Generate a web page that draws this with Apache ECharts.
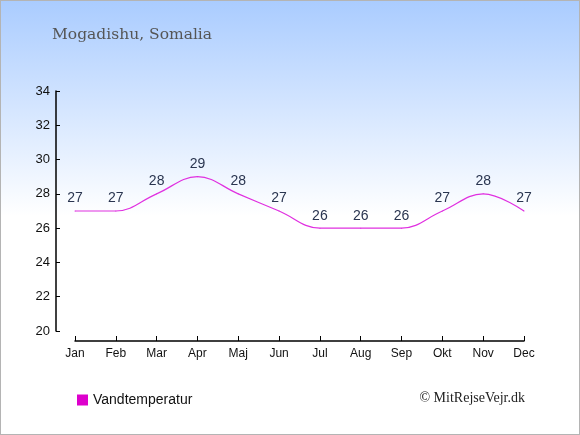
<!DOCTYPE html>
<html>
<head>
<meta charset="utf-8">
<script src="https://cdn.jsdelivr.net/npm/echarts@6/dist/echarts.min.js"></script>
<style>
  html, body { margin: 0; padding: 0; }
  #chart {
    width: 580px; height: 435px; box-sizing: border-box;
    border: 1px solid #b4b4b4;
    background: linear-gradient(to bottom, #aaccff 0px, #ffffff 215px, #ffffff 100%);
  }
</style>
</head>
<body>
<div id="chart"></div>
<script>
  var months = ['Jan', 'Feb', 'Mar', 'Apr', 'Maj', 'Jun', 'Jul', 'Aug', 'Sep', 'Okt', 'Nov', 'Dec'];
  var waterTemp = [27, 27, 28, 29, 28, 27, 26, 26, 26, 27, 28, 27];
  var seriesName = 'Vandtemperatur';

  var myChart = echarts.init(document.getElementById('chart'));
  var option = {
    animation: false,
    title: {
      text: 'Mogadishu, Somalia',
      left: 46, top: 21,
      textStyle: { fontFamily: 'DejaVu Serif', fontSize: 15.5, fontWeight: 'normal', color: '#555555' }
    },
    legend: {
      data: [{ name: seriesName, icon: 'rect', itemStyle: { color: '#dd00cc', opacity: 1 } }],
      left: 71, top: 387,
      itemWidth: 11, itemHeight: 11, itemGap: 6,
      textStyle: { fontFamily: 'Liberation Sans', fontSize: 14, color: '#111111' }
    },
    graphic: [{
      type: 'text', right: 54, top: 390,
      style: { text: '© MitRejseVejr.dk', fontFamily: 'Liberation Serif', fontSize: 14, fill: '#222222' }
    }],
    grid: { left: 74, right: 55, top: 90, bottom: 103 },
    xAxis: {
      type: 'category',
      data: months,
      boundaryGap: false,
      offset: 10,
      axisLine: { lineStyle: { color: '#000000', width: 1.5 } },
      axisTick: { alignWithLabel: true, length: 5, inside: true, lineStyle: { color: '#000000' } },
      axisLabel: { fontFamily: 'Liberation Sans', fontSize: 12, color: '#111111', margin: 7 },
      splitLine: { show: false }
    },
    yAxis: {
      type: 'value',
      min: 20, max: 34, interval: 2,
      offset: 19,
      axisLine: { show: true, lineStyle: { color: '#000000', width: 1.5 } },
      axisTick: { show: true, length: 4, inside: true, lineStyle: { color: '#000000' } },
      axisLabel: { fontFamily: 'Liberation Sans', fontSize: 13, color: '#111111', margin: 6 },
      splitLine: { show: false }
    },
    series: [{
      name: seriesName,
      type: 'line',
      data: waterTemp,
      smooth: 0.4,
      symbol: 'circle',
      symbolSize: 1,
      showSymbol: true,
      color: '#dd00cc',
      lineStyle: { color: '#e030e0', width: 1.2 },
      itemStyle: { color: '#e030e0' },
      label: {
        show: true, position: 'top', distance: 5,
        fontFamily: 'Liberation Sans', fontSize: 14, color: '#2a3550'
      }
    }]
  };
  myChart.setOption(option);
</script>
</body>
</html>
